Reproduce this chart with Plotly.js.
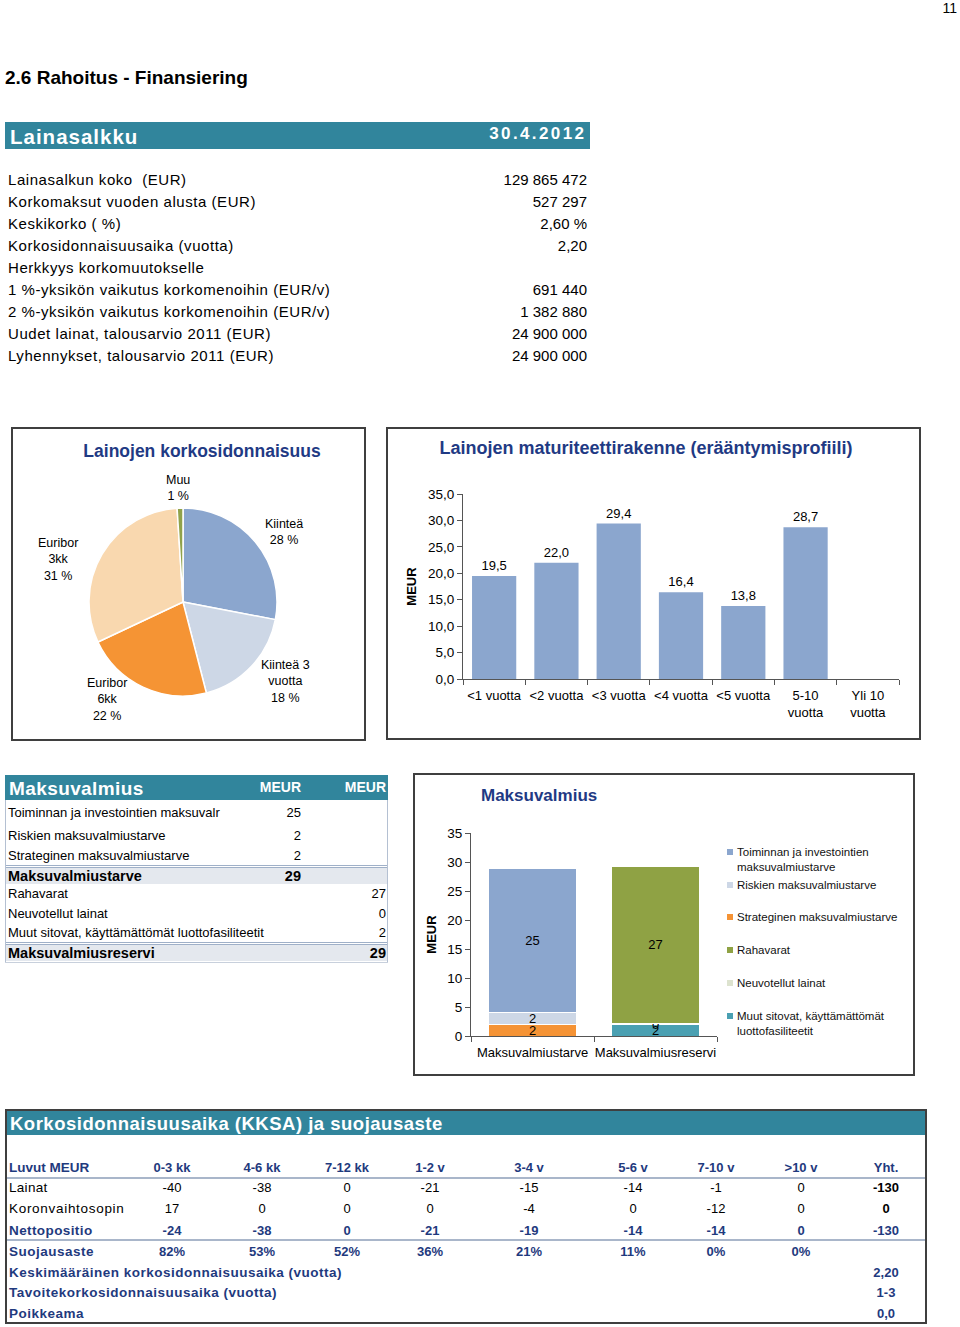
<!DOCTYPE html>
<html><head><meta charset="utf-8">
<script src="https://cdn.plot.ly/plotly-3.0.1.min.js"></script>
<style>
body{margin:0;background:#fff;}
#page{position:relative;width:960px;height:1327px;overflow:hidden;font-family:"Liberation Sans",Arial,sans-serif;color:#000;background:#fff;}
.t{position:absolute;white-space:pre;}
.box{position:absolute;box-sizing:border-box;border:2px solid #3f3f3f;}
.r{position:absolute;}
.plot{position:absolute;}
</style></head><body><div id="page"></div>
<script>
// ---------------- DATA ----------------
const pageNumber = '11';
const sectionTitle = '2.6 Rahoitus - Finansiering';
const portfolioTitle = 'Lainasalkku';
const portfolioDate = '30.4.2012';
const portfolioLabels = [
  'Lainasalkun koko  (EUR)',
  'Korkomaksut vuoden alusta (EUR)',
  'Keskikorko ( %)',
  'Korkosidonnaisuusaika (vuotta)',
  'Herkkyys korkomuutokselle',
  '1 %-yksikön vaikutus korkomenoihin (EUR/v)',
  '2 %-yksikön vaikutus korkomenoihin (EUR/v)',
  'Uudet lainat, talousarvio 2011 (EUR)',
  'Lyhennykset, talousarvio 2011 (EUR)'
];
const portfolioValues = ['129 865 472','527 297','2,60 %','2,20','','691 440','1 382 880','24 900 000','24 900 000'];

const pieTitle = 'Lainojen korkosidonnaisuus';
const pieLabels = ['Kiinteä','Kiinteä 3 vuotta','Euribor 6kk','Euribor 3kk','Muu'];
const pieLabelLines = ['Kiinteä','Kiinteä 3<br>vuotta','Euribor<br>6kk','Euribor<br>3kk','Muu'];
const pieShares = [28,18,22,31,1];

const maturityTitle = 'Lainojen maturiteettirakenne (erääntymisprofiili)';
const maturityCategories = ['<1 vuotta','<2 vuotta','<3 vuotta','<4 vuotta','<5 vuotta','5-10<br>vuotta','Yli 10<br>vuotta'];
const maturityValues = [19.5,22.0,29.4,16.4,13.8,28.7,null];
const axisUnit = 'MEUR';

const liqTableTitle = 'Maksuvalmius';
const liqTableHeaders = ['MEUR','MEUR'];
const liqRowLabels = ['Toiminnan ja investointien maksuvalr','Riskien maksuvalmiustarve','Strateginen maksuvalmiustarve','Maksuvalmiustarve','Rahavarat','Neuvotellut lainat','Muut sitovat, käyttämättömät luottofasiliteetit','Maksuvalmiusreservi'];
const liqCol1 = [25,2,2,29,null,null,null,null];
const liqCol2 = [null,null,null,null,27,0,2,29];
const liqBoldRows = [3,7];

const liqChartTitle = 'Maksuvalmius';
const liqCategories = ['Maksuvalmiustarve','Maksuvalmiusreservi'];
const needSeries = ['Strateginen maksuvalmiustarve','Riskien maksuvalmiustarve','Toiminnan ja investointien maksuvalmiustarve'];
const needValues = [1.9,2.1,24.8];
const reserveSeries = ['Muut sitovat, käyttämättömät luottofasiliteetit','Neuvotellut lainat','Rahavarat'];
const reserveValues = [1.9,0.2,27.2];
const liqLegendOrder = ['Toiminnan ja investointien maksuvalmiustarve','Riskien maksuvalmiustarve','Strateginen maksuvalmiustarve','Rahavarat','Neuvotellut lainat','Muut sitovat, käyttämättömät luottofasiliteetit'];

const kksaTitle = 'Korkosidonnaisuusaika (KKSA) ja suojausaste';
const kksaCorner = 'Luvut MEUR';
const kksaColumns = ['0-3 kk','4-6 kk','7-12 kk','1-2 v','3-4 v','5-6 v','7-10 v','>10 v','Yht.'];
const kksaLainat = ['-40','-38','0','-21','-15','-14','-1','0','-130'];
const kksaKoronvaihto = ['17','0','0','0','-4','0','-12','0','0'];
const kksaNetto = ['-24','-38','0','-21','-19','-14','-14','0','-130'];
const kksaSuojaus = ['82%','53%','52%','36%','21%','11%','0%','0%',''];
const kksaRowLabels = ['Lainat','Koronvaihtosopin','Nettopositio','Suojausaste'];
const kksaSummaryLabels = ['Keskimääräinen korkosidonnaisuusaika (vuotta)','Tavoitekorkosidonnaisuusaika (vuotta)','Poikkeama'];
const kksaSummaryValues = ['2,20','1-3','0,0'];

// ---------------- STYLE / LAYOUT ----------------
const TEAL = '#31859C', NAVY = '#1F3A84', NAVY2 = '#1F3A7E';
const FONT = 'Liberation Sans, Arial, sans-serif';
const page = document.getElementById('page');
function el(cls, css, text){const d=document.createElement('div');d.className=cls;Object.assign(d.style,css);if(text!==undefined)d.textContent=text;page.appendChild(d);return d;}
function rect(x,y,w,h,c){return el('r',{left:x+'px',top:y+'px',width:w+'px',height:h+'px',background:c});}
function txt(x,y,s,o){o=o||{};const size=o.size||13;const lh=Math.round(size*1.2);
  const css={top:(y-lh/2)+'px',fontSize:size+'px',lineHeight:lh+'px',fontWeight:o.bold?'bold':'normal',color:o.color||'#000'};
  if(o.ls)css.letterSpacing=o.ls+'px';
  const a=o.align||'left';
  if(a==='left'){css.left=x+'px';}
  else if(a==='right'){css.left=(x-600+(o.ls||0))+'px';css.width='600px';css.textAlign='right';}
  else{css.left=(x-300)+'px';css.width='600px';css.textAlign='center';}
  return el('t',css,s);}

// header
txt(957,8,pageNumber,{align:'right',size:14});
txt(5,77,sectionTitle,{size:19,bold:true});
rect(5,122,585,27,TEAL);
txt(10,136,portfolioTitle,{size:20.5,bold:true,color:'#fff',ls:1});
txt(584,134,portfolioDate,{align:'right',size:17,bold:true,color:'#fff',ls:2.4});
portfolioLabels.forEach((l,i)=>{const y=180+22*i;txt(8,y,l,{size:15,ls:0.55});if(portfolioValues[i])txt(587,y,portfolioValues[i],{align:'right',size:15});});

// chart boxes
el('box',{left:'11px',top:'427px',width:'355px',height:'314px'});
el('box',{left:'386px',top:'427px',width:'535px',height:'313px'});
el('box',{left:'413px',top:'773px',width:'502px',height:'303px'});
const pieDiv = el('plot',{left:'13px',top:'429px',width:'351px',height:'310px'});
const barDiv = el('plot',{left:'388px',top:'429px',width:'531px',height:'309px'});
const liqDiv = el('plot',{left:'415px',top:'775px',width:'498px',height:'299px'});

// liquidity table
rect(5,775,383,25,TEAL);
txt(9,788,liqTableTitle,{size:19,bold:true,color:'#fff',ls:0.4});
txt(301,787,liqTableHeaders[0],{align:'right',size:14,bold:true,color:'#fff'});
txt(386,787,liqTableHeaders[1],{align:'right',size:14,bold:true,color:'#fff'});
rect(5,800,1,163,'#B4C0D2');rect(387,800,1,163,'#B4C0D2');rect(5,962,383,1,'#C8D0DC');
rect(6,868,381,16,'#E4E8EE');rect(6,945,381,16,'#E4E8EE');
rect(6,865,381,1,'#9FB0C8');rect(6,867,381,1,'#9FB0C8');
rect(6,942,381,1,'#9FB0C8');rect(6,944,381,1,'#9FB0C8');
const liqRowY=[813,836,856,876,894,914,933,953];
liqRowLabels.forEach((l,i)=>{const b=liqBoldRows.includes(i);const sz=b?14.5:13;
  txt(8,liqRowY[i],l,{size:sz,bold:b});
  if(liqCol1[i]!=null)txt(301,liqRowY[i],String(liqCol1[i]),{align:'right',size:sz,bold:b});
  if(liqCol2[i]!=null)txt(386,liqRowY[i],String(liqCol2[i]),{align:'right',size:sz,bold:b});});

// KKSA table
el('box',{left:'5px',top:'1109px',width:'922px',height:'215px'});
rect(7,1111,918,24,TEAL);
txt(10,1124,kksaTitle,{size:18.5,bold:true,color:'#fff',ls:0.5});
rect(7,1177,918,2,'#A9B6CA');rect(7,1239,918,2,'#A9B6CA');
const colX=[172,262,347,430,529,633,716,801,886];
txt(9,1168,kksaCorner,{size:13.5,bold:true,color:NAVY2});
kksaColumns.forEach((c,i)=>txt(colX[i],1168,c,{align:'center',size:13,bold:true,color:NAVY2}));
const kRows=[[kksaLainat,1188,false,0.3],[kksaKoronvaihto,1209,false,0.7],[kksaNetto,1231,true,0.4],[kksaSuojaus,1252,true,0.5]];
kRows.forEach((r,ri)=>{const [vals,y,navy,ls]=r;
  txt(9,y,kksaRowLabels[ri],{size:13.5,bold:navy,color:navy?NAVY2:'#000',ls:ls});
  vals.forEach((v,i)=>{if(v!=='')txt(colX[i],y,v,{align:'center',size:13,bold:navy||i===8,color:navy?NAVY2:'#000'});});});
const sumY=[1273,1293,1314];
kksaSummaryLabels.forEach((l,i)=>{txt(9,sumY[i],l,{size:13.5,bold:true,color:NAVY2,ls:0.5});txt(colX[8],sumY[i],kksaSummaryValues[i],{align:'center',size:13,bold:true,color:NAVY2});});

const cfg={staticPlot:true,displayModeBar:false};

// ---------- PIE ----------
const pieColors=['#8BA6CE','#CDD7E6','#F59434','#F9D8AF','#90A24A'];
const pW=351,pH=310,pL=13,pT=429;
const ppx=X=>(X-pL)/pW, ppy=Y=>1-(Y-pT)/pH;
const pieAnchors=[[284,532],[285,681],[107,699],[58,559],[178,488]];
Plotly.newPlot(pieDiv,[{
  type:'pie',labels:pieLabels,values:pieShares,sort:false,direction:'clockwise',rotation:0,
  marker:{colors:pieColors,line:{color:'#fff',width:1.5}},textinfo:'none',hoverinfo:'none',
  domain:{x:[ppx(89),ppx(277)],y:[ppy(696),ppy(508)]},showlegend:false
}],{
  width:pW,height:pH,margin:{l:0,r:0,t:0,b:0},paper_bgcolor:'rgba(0,0,0,0)',
  font:{family:FONT},
  title:{text:pieTitle,font:{size:17.5,color:NAVY,family:FONT,weight:'bold'},x:ppx(202),xanchor:'center',y:ppy(451),yanchor:'middle',xref:'paper',yref:'container'},
  annotations:pieLabels.map((l,i)=>({xref:'paper',yref:'paper',x:ppx(pieAnchors[i][0]),y:ppy(pieAnchors[i][1]),xanchor:'center',yanchor:'middle',
    text:pieLabelLines[i]+'<br>'+pieShares[i]+' %',showarrow:false,font:{size:12.5,color:'#000',family:FONT},align:'center'}))
},cfg);

// ---------- MATURITY BARS ----------
const fmt1=v=>v==null?'':v.toFixed(1).replace('.',',');
Plotly.newPlot(barDiv,[{
  type:'bar',x:maturityCategories,y:maturityValues,marker:{color:'#8BA6CE'},
  text:maturityValues.map(fmt1),textposition:'outside',textfont:{size:13,color:'#000',family:FONT},cliponaxis:false,hoverinfo:'none'
}],{
  width:531,height:309,margin:{l:75,r:20,t:65,b:59},paper_bgcolor:'rgba(0,0,0,0)',plot_bgcolor:'rgba(0,0,0,0)',
  separators:', ',bargap:0.29,font:{family:FONT,color:'#000'},
  title:{text:maturityTitle,font:{size:18,color:NAVY,family:FONT,weight:'bold'},x:(646-388)/531,xanchor:'center',y:1-(448-429)/309,yanchor:'middle',xref:'container',yref:'container'},
  xaxis:{type:'category',categoryorder:'array',categoryarray:maturityCategories,range:[-0.5,6.5],showline:true,linecolor:'#555',linewidth:1,
    ticks:'outside',tickson:'boundaries',ticklen:5,tickcolor:'#555',tickangle:0,ticklabelstandoff:4,tickfont:{size:13,color:'#000'},showgrid:false,zeroline:false},
  yaxis:{range:[0,35],dtick:5,tickformat:'.1f',showline:true,linecolor:'#555',linewidth:1,ticks:'outside',ticklen:5,tickcolor:'#555',
    tickfont:{size:13.5,color:'#000'},showgrid:false,zeroline:false,
    title:{text:axisUnit,font:{size:13,color:'#000',weight:'bold'},standoff:8}}
},cfg);

// ---------- LIQUIDITY STACKED BARS ----------
const seriesColors={
  'Toiminnan ja investointien maksuvalmiustarve':'#8BA6CE',
  'Riskien maksuvalmiustarve':'#CDD7E6',
  'Strateginen maksuvalmiustarve':'#F59335',
  'Rahavarat':'#8FA244',
  'Neuvotellut lainat':'#DDE3CF',
  'Muut sitovat, käyttämättömät luottofasiliteetit':'#4AA0B2'
};
const legendLines={
  'Toiminnan ja investointien maksuvalmiustarve':'Toiminnan ja investointien<br>maksuvalmiustarve',
  'Muut sitovat, käyttämättömät luottofasiliteetit':'Muut sitovat, käyttämättömät<br>luottofasiliteetit'
};
const mk=(name,cat,v)=>({type:'bar',name:name,x:[cat],y:[v],marker:{color:seriesColors[name],line:{color:'#fff',width:1}},
  text:[String(Math.round(v))],textposition:'inside',insidetextanchor:'middle',constraintext:'none',textangle:0,
  textfont:{size:13,color:'#000',family:FONT},hoverinfo:'none',showlegend:false,cliponaxis:false});
const liqTraces=[];
needSeries.forEach((n,i)=>liqTraces.push(mk(n,liqCategories[0],needValues[i])));
reserveSeries.forEach((n,i)=>liqTraces.push(mk(n,liqCategories[1],reserveValues[i])));
const lL=471,lR=717,lT=833,lB=1036;
const lpx=X=>(X-lL)/(lR-lL), lpy=Y=>(lB-Y)/(lB-lT);
const legY=[852,885,917,950,983,1016];
const liqAnn=[],liqShapes=[];
liqLegendOrder.forEach((n,i)=>{
  liqAnn.push({xref:'paper',yref:'paper',x:lpx(735),y:lpy(legY[i]-8),xanchor:'left',yanchor:'top',align:'left',showarrow:false,
    text:legendLines[n]||n,font:{size:11.5,color:'#111',family:FONT}});
  liqShapes.push({type:'rect',xref:'paper',yref:'paper',x0:lpx(727),x1:lpx(733),y0:lpy(legY[i]+3),y1:lpy(legY[i]-3),fillcolor:seriesColors[n],line:{width:0}});
});
Plotly.newPlot(liqDiv,liqTraces,{
  width:498,height:299,margin:{l:56,r:196,t:58,b:38},paper_bgcolor:'rgba(0,0,0,0)',plot_bgcolor:'rgba(0,0,0,0)',
  barmode:'stack',bargap:0.285,font:{family:FONT,color:'#000'},showlegend:false,
  title:{text:liqChartTitle,font:{size:17,color:NAVY,family:FONT,weight:'bold'},x:(481-415)/498,xanchor:'left',y:1-(795-775)/299,yanchor:'middle',xref:'container',yref:'container'},
  xaxis:{type:'category',categoryorder:'array',categoryarray:liqCategories,range:[-0.5,1.5],showline:true,linecolor:'#555',ticks:'outside',tickson:'boundaries',
    ticklen:5,tickcolor:'#555',tickangle:0,ticklabelstandoff:4,tickfont:{size:13,color:'#000'},showgrid:false,zeroline:false},
  yaxis:{range:[0,35],dtick:5,showline:true,linecolor:'#555',ticks:'outside',ticklen:5,tickcolor:'#555',tickfont:{size:13.5,color:'#000'},
    showgrid:false,zeroline:false,title:{text:axisUnit,font:{size:13,color:'#000',weight:'bold'},standoff:7}},
  annotations:liqAnn,shapes:liqShapes
},cfg);
</script></body></html>
